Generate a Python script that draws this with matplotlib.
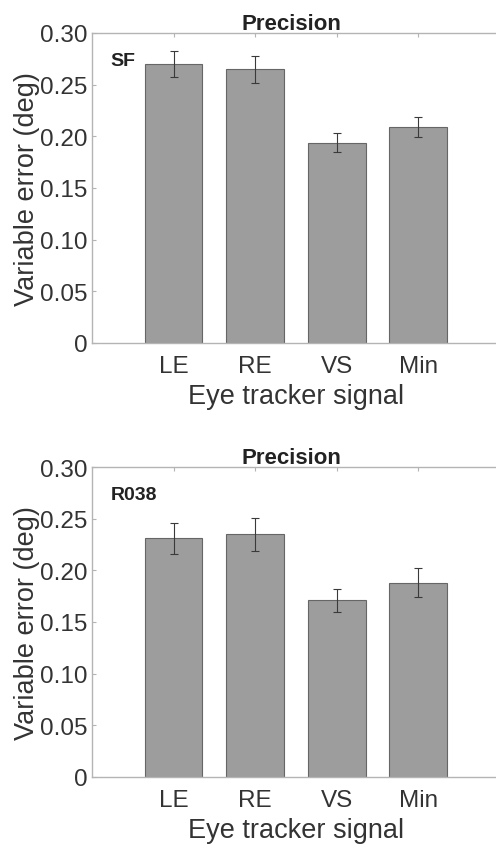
import numpy as np
import matplotlib
matplotlib.use("Agg")
from matplotlib import pyplot as plt

plt.rcParams['font.family'] = ['Liberation Sans', 'DejaVu Sans']

# data
signals = ['LE', 'RE', 'VS', 'Min']
sf_mean = [0.270, 0.265, 0.194, 0.209]
sf_err = [0.013, 0.013, 0.009, 0.010]
r038_mean = [0.231, 0.235, 0.171, 0.188]
r038_err = [0.015, 0.016, 0.011, 0.014]
panels = [('SF', sf_mean, sf_err), ('R038', r038_mean, r038_err)]
yticks = [0, 0.05, 0.10, 0.15, 0.20, 0.25, 0.30]
ytick_labels = ['0', '0.05', '0.10', '0.15', '0.20', '0.25', '0.30']

txt = '#333333'
axcol = '#b4b4b4'

fig = plt.figure(figsize=(4.96, 8.45), dpi=100)
# axes boxes in figure fractions (right edge runs just past the picture)
boxes = [[0.1855, 0.5929, 0.822, 0.3669], [0.1855, 0.0797, 0.822, 0.3661]]

for (name, mean, err), box in zip(panels, boxes):
    ax = fig.add_axes(box)
    x = np.arange(1, len(signals) + 1)
    ax.bar(x, mean, width=0.71, color='#9d9d9d', edgecolor='#666666', linewidth=0.8, zorder=2)
    ax.errorbar(x, mean, yerr=err, fmt='none', ecolor='#3a3a3a', elinewidth=0.8,
                capsize=2.6, capthick=0.8, zorder=3)
    ax.set_xlim(0, 5)
    ax.set_ylim(0, 0.30)
    ax.set_xticks(x)
    ax.set_xticklabels(signals)
    ax.set_yticks(yticks)
    ax.set_yticklabels(ytick_labels)
    for s in ax.spines.values():
        s.set_color(axcol)
        s.set_linewidth(1.0)
    ax.tick_params(direction='in', length=3, width=0.8, color=axcol, top=True, right=True,
                   labelsize=17.5, labelcolor=txt)
    ax.tick_params(axis='x', pad=9)
    ax.tick_params(axis='y', pad=3)
    ax.set_xlabel('Eye tracker signal', fontsize=19.5, color=txt, labelpad=4)
    ax.set_ylabel('Variable error (deg)', fontsize=19.5, color=txt, labelpad=0)
    ax.set_title('Precision', fontsize=16, fontweight='bold', color='#222222', pad=3, x=0.49)
    ax.text(0.045, 0.912, name, transform=ax.transAxes, fontsize=14, fontweight='bold',
            color='#222222', ha='left', va='center')

fig.savefig('out.png', dpi=100)
